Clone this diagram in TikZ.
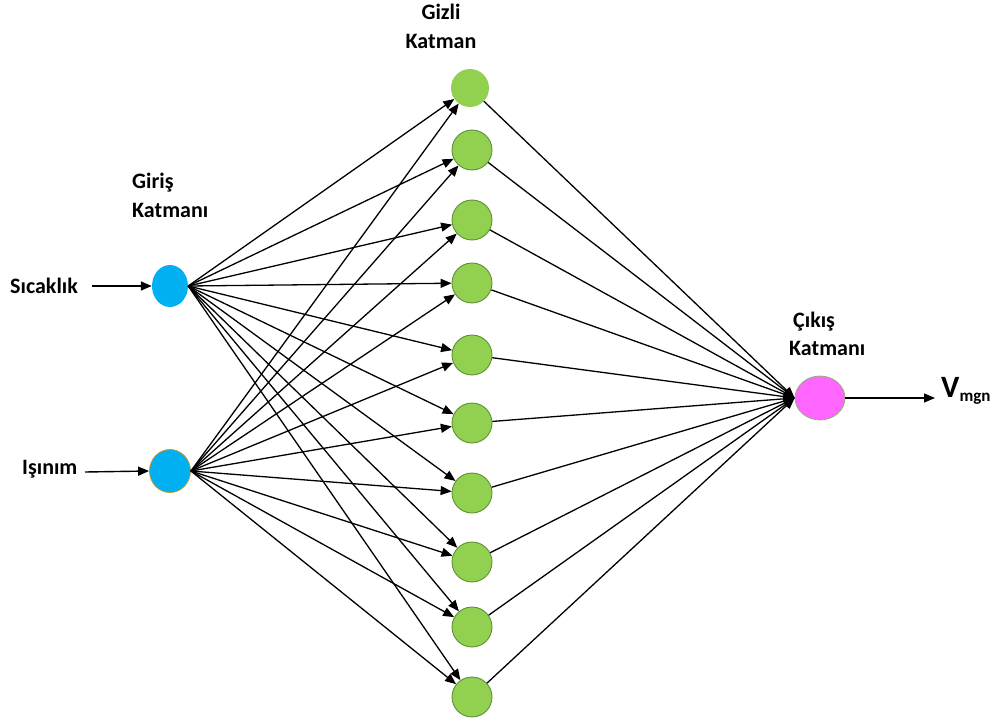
\documentclass[tikz,border=0pt]{standalone}
\usepackage{fontspec}
\setmainfont{Carlito}
\usetikzlibrary{arrows.meta,shapes.geometric}
\definecolor{incyan}{HTML}{00B0F0}
\definecolor{hidgreen}{HTML}{92D050}
\definecolor{hidborder}{HTML}{5E8F35}
\definecolor{outpink}{HTML}{FF66FF}
\definecolor{outborder}{HTML}{8DB86A}
\definecolor{goldb}{HTML}{C09A30}
\begin{document}
\begin{tikzpicture}[x=1pt,y=-1pt,
  arr/.style={draw=black,line width=1.4pt,-{Triangle[length=11pt,width=9pt]}},
  conn/.style={draw=black,line width=1.3pt,-{Triangle[length=11pt,width=9pt]}},
  lbl/.style={font=\bfseries\fontsize{22}{24}\selectfont,inner sep=0pt},
  hid/.style={circle,fill=hidgreen,draw=hidborder,line width=0.9pt,minimum size=40pt,inner sep=0pt},
  inp/.style={ellipse,fill=incyan,inner sep=0pt},
]
\useasboundingbox (0,0) rectangle (1000,722);
% input nodes
\node[inp,minimum width=36pt,minimum height=42pt] (s) at (170,286) {};
\node[inp,draw=goldb,line width=0.8pt,minimum width=41pt,minimum height=43pt] (i) at (170,471) {};
% hidden nodes
\node[circle,fill=hidgreen,minimum size=38pt,inner sep=0pt] (h1) at (470,88) {};
\node[hid] (h2) at (472,150) {};
\node[hid] (h3) at (472,220) {};
\node[hid] (h4) at (472,283) {};
\node[hid] (h5) at (472,355) {};
\node[hid] (h6) at (472,423) {};
\node[hid] (h7) at (472,493) {};
\node[hid] (h8) at (472,562) {};
\node[hid] (h9) at (472,627) {};
\node[hid] (h10) at (472,697) {};
% output node
\node[ellipse,fill=outpink,draw=outborder,line width=0.8pt,minimum width=50pt,minimum height=44pt,inner sep=0pt] (o) at (820,398) {};
% labels
\node[lbl,anchor=west] (ls) at (10,286) {Sıcaklık};
\node[lbl,anchor=west] (li) at (22,469) {Işınım};
\node[lbl] (g1) at (441,12) {Gizli};
\node[lbl] (g2) at (441,41) {Katman};
\node[lbl,anchor=west] (r1) at (132,183) {Giriş};
\node[lbl,anchor=west] (r2) at (132,210) {Katmanı};
\node[lbl,anchor=west] (c1) at (793,322) {Çıkış};
\node[lbl,anchor=west] (c2) at (789,348) {Katmanı};
\node[font=\bfseries\fontsize{31}{34}\selectfont,inner sep=0pt,anchor=west] (v) at (941,391) {V\textsubscript{\fontsize{17}{18}\selectfont mgn}};
% coordinates for free ends
\coordinate (sa) at (92,286);
\coordinate (ia) at (85,472);
\coordinate (ve) at (935,398);
% input arrows
\draw[arr] (sa) -- (s.west);
\draw[arr] (ia) -- (i.west);
\draw[arr] (o.east) -- (ve);
% connections
\foreach \k in {1,...,10} {
  \draw[conn] (s.east) -- (h\k);
  \draw[conn] (i.east) -- (h\k);
  \draw[conn] (h\k) -- (o.west);
}
\end{tikzpicture}
\end{document}
